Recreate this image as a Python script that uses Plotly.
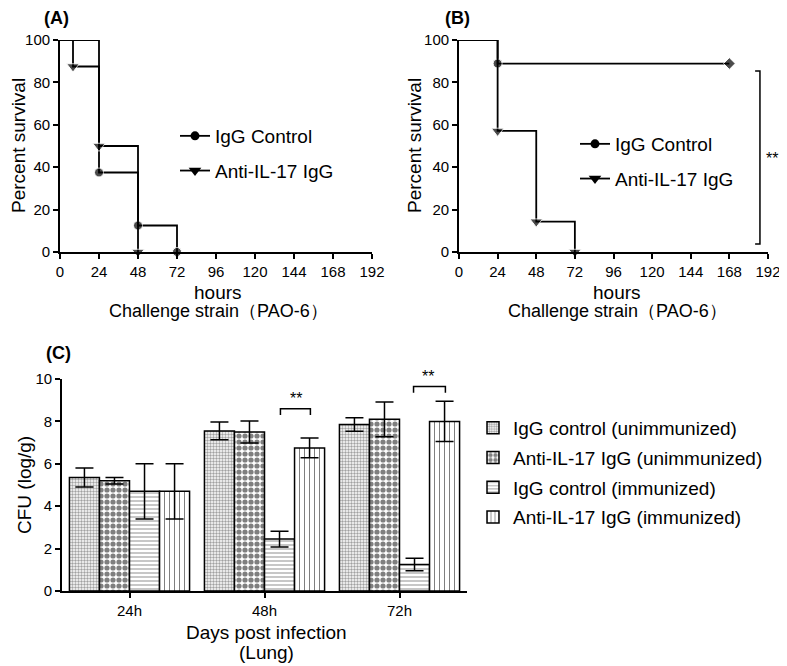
import plotly.graph_objects as go

# ---------------- Data ----------------
# Panel A (Kaplan-Meier, hours vs percent survival)
a_ctrl_t = [0, 24, 48, 72]
a_ctrl_s = [100, 37.5, 12.5, 0]
a_anti_t = [0, 8, 24, 48]
a_anti_s = [100, 87.5, 50, 0]

# Panel B
b_ctrl_t = [0, 24, 168]
b_ctrl_s = [100, 88.9, 88.9]
b_anti_t = [0, 24, 48, 72]
b_anti_s = [100, 57.1, 14.3, 0]

hour_ticks = [0, 24, 48, 72, 96, 120, 144, 168, 192]
pct_ticks = [0, 20, 40, 60, 80, 100]

# Panel C (CFU log/g)
categories = ["24h", "48h", "72h"]
series_names = ["IgG control (unimmunized)", "Anti-IL-17 IgG (unimmunized)",
                "IgG control (immunized)", "Anti-IL-17 IgG (immunized)"]
ctrl_unimm = [5.35, 7.55, 7.85]
ctrl_unimm_err = [0.45, 0.42, 0.32]
anti_unimm = [5.2, 7.5, 8.1]
anti_unimm_err = [0.15, 0.52, 0.82]
ctrl_imm = [4.7, 2.45, 1.25]
ctrl_imm_err = [1.3, 0.37, 0.3]
anti_imm = [4.7, 6.75, 8.0]
anti_imm_err = [1.3, 0.47, 0.95]
cfu_ticks = [0, 2, 4, 6, 8, 10]

FONT = "Liberation Sans, Arial, sans-serif"
WIN_W, WIN_H = 787, 666
OFF = 8  # page body margin
W, H = WIN_W - OFF, WIN_H - OFF


def fx(x):
    return (x - OFF) / W


def fy(y):
    return 1 - (y - OFF) / H


fig = go.Figure()


def msize(symbol):
    return 11 if symbol == "triangle-down" else 9


def km_trace(t, s, symbol, xa, ya, symbols=None):
    sizes = [0] + [msize(symbol)] * (len(t) - 1)
    return go.Scatter(x=t, y=s, mode="lines+markers", line=dict(color="black", width=1.8, shape="hv"),
                      marker=dict(color="black", size=sizes, symbol=symbols if symbols else symbol),
                      xaxis=xa, yaxis=ya, showlegend=False, cliponaxis=False, hoverinfo="skip")


def legend_trace(name, symbol, legend, group):
    return go.Scatter(x=[None], y=[None], mode="lines+markers", name=name,
                      line=dict(color="black", width=1.8), marker=dict(color="black", size=msize(symbol), symbol=symbol),
                      legend=legend, legendgroup=group, xaxis="x", yaxis="y")


# Panel A
fig.add_trace(km_trace(a_ctrl_t, a_ctrl_s, "circle", "x", "y"))
fig.add_trace(km_trace(a_anti_t, a_anti_s, "triangle-down", "x", "y"))
fig.add_trace(legend_trace("IgG Control", "circle", "legend", "a1"))
fig.add_trace(legend_trace("Anti-IL-17 IgG", "triangle-down", "legend", "a2"))

# Panel B
fig.add_trace(km_trace(b_ctrl_t, b_ctrl_s, "circle", "x2", "y2", symbols=["circle", "circle", "diamond"]))
fig.add_trace(km_trace(b_anti_t, b_anti_s, "triangle-down", "x2", "y2"))
fig.add_trace(legend_trace("IgG Control", "circle", "legend2", "b1"))
fig.add_trace(legend_trace("Anti-IL-17 IgG", "triangle-down", "legend2", "b2"))

# Panel C
patterns = [
    dict(shape=".", size=3, solidity=0.5, fgcolor="#444", bgcolor="white"),
    dict(shape=".", size=6, solidity=0.6, fgcolor="black", bgcolor="white"),
    dict(shape="-", size=4, solidity=0.22, fgcolor="black", bgcolor="white"),
    dict(shape="|", size=5, solidity=0.2, fgcolor="black", bgcolor="white"),
]
vals = [ctrl_unimm, anti_unimm, ctrl_imm, anti_imm]
errs = [ctrl_unimm_err, anti_unimm_err, ctrl_imm_err, anti_imm_err]
for i in range(4):
    fig.add_trace(go.Bar(x=categories, y=vals[i], name=series_names[i],
                         marker=dict(color="white", line=dict(color="black", width=1.5), pattern=patterns[i]),
                         error_y=dict(type="data", array=errs[i], color="black", thickness=1.5, width=9),
                         xaxis="x3", yaxis="y3", legend="legend3", legendgroup="c%d" % i, hoverinfo="skip"))

axis_common = dict(showline=True, linecolor="black", linewidth=1.7, ticks="outside", ticklen=5,
                   tickwidth=1.5, tickcolor="black", showgrid=False, zeroline=False, automargin=False,
                   tickfont=dict(family=FONT, size=15, color="black"))


def dx(a, b):
    return [fx(a), fx(b)]


def dy(top, bottom):
    return [fy(bottom), fy(top)]


LEGFONT = dict(family=FONT, size=19, color="black")

fig.update_layout(
    width=W, height=H, margin=dict(l=0, r=0, t=0, b=0, pad=0, autoexpand=False),
    paper_bgcolor="white", plot_bgcolor="white",
    font=dict(family=FONT, color="black"),
    barmode="group", bargap=0.11, bargroupgap=0,
    xaxis=dict(domain=dx(60, 372), range=[0, 192], tickvals=hour_ticks, anchor="y", **axis_common),
    yaxis=dict(domain=dy(40, 252), range=[0, 100], tickvals=pct_ticks, anchor="x", **axis_common),
    xaxis2=dict(domain=dx(459, 768), range=[0, 192], tickvals=hour_ticks, anchor="y2", **axis_common),
    yaxis2=dict(domain=dy(40, 252), range=[0, 100], tickvals=pct_ticks, anchor="x2", **axis_common),
    xaxis3=dict(domain=dx(62, 467), range=[-0.5, 2.5], type="category", anchor="y3", **axis_common),
    yaxis3=dict(domain=dy(379, 591), range=[0, 10], tickvals=cfu_ticks, anchor="x3", **axis_common),
    legend=dict(x=fx(175), y=fy(117), xanchor="left", yanchor="top", tracegroupgap=7,
                font=LEGFONT, bgcolor="rgba(0,0,0,0)"),
    legend2=dict(x=fx(575), y=fy(125), xanchor="left", yanchor="top", tracegroupgap=7,
                 font=LEGFONT, bgcolor="rgba(0,0,0,0)"),
    legend3=dict(x=fx(473), y=fy(409), xanchor="left", yanchor="top", tracegroupgap=2,
                 font=LEGFONT, bgcolor="rgba(0,0,0,0)"),
)


def ann(text, x, y, size=19, angle=0, bold=False, xref="paper", yref="paper"):
    if xref == "paper":
        x = fx(x)
    if yref == "paper":
        y = fy(y)
    fig.add_annotation(text=("<b>%s</b>" % text) if bold else text, x=x, y=y, xref=xref, yref=yref,
                       showarrow=False, textangle=angle, xanchor="center", yanchor="middle", borderpad=0,
                       font=dict(family=FONT, size=size, color="black"))


# Panel labels
ann("(A)", 56, 18, size=18, bold=True)
ann("(B)", 457, 18, size=18, bold=True)
ann("(C)", 58, 353, size=18, bold=True)

# Axis titles
ann("Percent survival", 18, 146, angle=-90)
ann("Percent survival", 414, 146, angle=-90)
ann("hours", 218, 293)
ann("Challenge strain（PAO-6）", 218, 311, size=18)
ann("hours", 617, 293)
ann("Challenge strain（PAO-6）", 617, 311, size=18)
ann("CFU (log/g)", 24, 485, angle=-90)
ann("Days post infection", 266, 632)
ann("(Lung)", 266, 652)

# Panel B significance bracket
fig.add_shape(type="path", path="M 184,85.4 L 187,85.4 L 187,3.8 L 184,3.8", xref="x2", yref="y2",
              line=dict(color="black", width=1.5))
ann("**", 772, 158, size=16)

# Panel C significance brackets
fig.add_shape(type="path", path="M 1.118,8.3 L 1.118,8.6 L 1.34,8.6 L 1.34,8.3", xref="x3", yref="y3",
              line=dict(color="black", width=1.5))
ann("**", 296, 398, size=16)
fig.add_shape(type="path", path="M 2.104,9.35 L 2.104,9.65 L 2.34,9.65 L 2.34,9.35", xref="x3", yref="y3",
              line=dict(color="black", width=1.5))
ann("**", 428, 376, size=16)

fig.write_html("out.html")
